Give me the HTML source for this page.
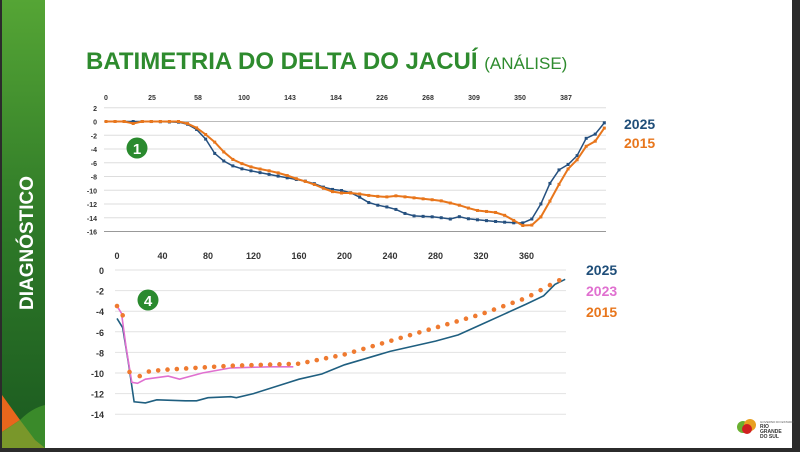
<!DOCTYPE html>
<html><head><meta charset="utf-8"><style>
html,body{margin:0;padding:0;width:800px;height:452px;overflow:hidden;background:#2b2b2b}
#w{position:absolute;left:2px;top:0;width:790px;height:448px;background:#fff}
</style></head><body>
<div id="w"></div>
<svg id="s" width="800" height="452" style="position:absolute;left:0;top:0" font-family="Liberation Sans, sans-serif">
<defs>
<linearGradient id="g" x1="0" y1="0" x2="0" y2="1"><stop offset="0" stop-color="#55a535"/><stop offset="0.5" stop-color="#2f7a28"/><stop offset="1" stop-color="#1b5a20"/></linearGradient>
</defs>
<rect x="2" y="0" width="43" height="448" fill="url(#g)"/>
<path d="M2 395 L20 420 L2 432Z" fill="#e8661c"/>
<path d="M2 432 L20 420 Q32 408 45 405 L45 448 L2 448Z" fill="#3a8a2a"/>
<path d="M2 432 L20 420 L35 440 L45 448 L2 448Z" fill="#8a9a2a" opacity="0.8"/>
<text transform="translate(33,310) rotate(-90)" fill="#fff" font-weight="bold" font-size="19">DIAGNÓSTICO</text>
<text x="86" y="69" fill="#2e8b2e" font-weight="bold" font-size="24">BATIMETRIA DO DELTA DO JACUÍ <tspan font-weight="normal" font-size="17">(ANÁLISE)</tspan></text>
<g id="c1"></g><g id="c2"></g>
<circle cx="137" cy="148" r="10.5" fill="#2a8a2e"/><text x="137" y="154" fill="#fff" font-weight="bold" font-size="15" text-anchor="middle">1</text>
<circle cx="148" cy="300" r="10.5" fill="#2a8a2e"/><text x="148" y="306" fill="#fff" font-weight="bold" font-size="15" text-anchor="middle">4</text>
<g font-weight="bold" font-size="14">
<text x="624" y="129" fill="#1f4e79">2025</text>
<text x="624" y="148" fill="#e8761c">2015</text>
<text x="586" y="275" fill="#1f4e79">2025</text>
<text x="586" y="296" fill="#e070d0">2023</text>
<text x="586" y="317" fill="#e8761c">2015</text>
</g>
<g transform="translate(735,415)">
<circle cx="8" cy="12" r="6" fill="#6ab030"/><circle cx="15" cy="10" r="6" fill="#e8a020"/><circle cx="12" cy="14" r="5" fill="#d02020"/>
<text x="25" y="8" font-size="3" fill="#555">GOVERNO DO ESTADO</text>
<text x="25" y="13" font-size="5" font-weight="bold" fill="#333">RIO</text>
<text x="25" y="18" font-size="5" font-weight="bold" fill="#333">GRANDE</text>
<text x="25" y="23" font-size="5" font-weight="bold" fill="#333">DO SUL</text>
</g>
</svg>
<script>
var NS="http://www.w3.org/2000/svg";
function el(p,t,a,txt){var e=document.createElementNS(NS,t);for(var k in a)e.setAttribute(k,a[k]);if(txt!=null)e.textContent=txt;p.appendChild(e);return e;}
function interp(pts,x){for(var i=0;i<pts.length-1;i++){if(x>=pts[i][0]&&x<=pts[i+1][0]){var t=(x-pts[i][0])/(pts[i+1][0]-pts[i][0]||1);return pts[i][1]+t*(pts[i+1][1]-pts[i][1]);}}return pts[pts.length-1][1];}
// chart 1
var c1=document.getElementById("c1");
function y1(v){return 121.5-v*6.875;}
for(var v=2;v>=-16;v-=2){var y=y1(v);el(c1,"line",{x1:104,x2:606,y1:y,y2:y,stroke:v==0?"#bbb":"#ddd","stroke-width":1});el(c1,"text",{x:97,y:y+3,"font-size":7,"text-anchor":"end",fill:"#333","font-weight":"bold"},v);}
el(c1,"line",{x1:104,x2:606,y1:y1(-16),y2:y1(-16),stroke:"#999"});
var lb=[0,25,58,100,143,184,226,268,309,350,387];
lb.forEach(function(l,i){el(c1,"text",{x:106+i*46,y:100,"font-size":7,"text-anchor":"middle",fill:"#333","font-weight":"bold"},l);});
var b1=[[106,0],[150,0],[180,-0.1],[190,-0.5],[200,-1.5],[208,-3],[217,-5.2],[227,-6],[236,-6.7],[255,-7.3],[273,-7.8],[291,-8.3],[310,-8.8],[328,-9.8],[345,-10.1],[356,-10.6],[365,-11.6],[375,-12.1],[393,-12.6],[410,-13.7],[437,-13.9],[450,-14.2],[458,-13.8],[470,-14.2],[500,-14.6],[520,-14.8],[530,-14.6],[540,-12.3],[548,-9.5],[557,-7.2],[567,-6.4],[577,-5],[585,-2.5],[594,-2.1],[603,-0.2]];
var o1=[[106,0],[125,0],[133,-0.3],[140,0],[180,0],[190,-0.4],[200,-1.2],[209,-2.3],[218,-3.4],[227,-5],[236,-5.8],[245,-6.3],[255,-6.8],[264,-7],[273,-7.3],[282,-7.6],[300,-8.5],[310,-8.9],[320,-9.5],[328,-10],[337,-10.4],[355,-10.4],[365,-10.7],[385,-11],[395,-10.8],[420,-11.2],[440,-11.5],[460,-12.2],[475,-12.9],[500,-13.3],[512,-14.2],[520,-15.1],[530,-15.2],[538,-14.6],[548,-12.1],[557,-9.7],[566,-7.2],[577,-5.6],[585,-3.7],[596,-2.8],[605,-0.8]];
function series1(d,col,w){var p=[];for(var x=106;x<=605.5;x+=9.06){p.push([x,y1(interp(d,x))]);}
el(c1,"polyline",{points:p.map(function(q){return q[0].toFixed(1)+","+q[1].toFixed(1)}).join(" "),fill:"none",stroke:col,"stroke-width":w});
p.forEach(function(q){el(c1,"rect",{x:q[0]-1.5,y:q[1]-1.5,width:3,height:3,fill:col});});}
series1(b1,"#25507f",1.5);series1(o1,"#e8761c",2);
// chart 2
var c2=document.getElementById("c2");
function X(u){return 117+u*1.1375;}function Y(v){return 270-v*10.3;}
for(var v=0;v>=-14;v-=2){var y=Y(v);el(c2,"line",{x1:115,x2:566,y1:y,y2:y,stroke:"#e2e2e2"});el(c2,"text",{x:104,y:y+4,"font-size":9,"text-anchor":"end",fill:"#333","font-weight":"bold"},v);}
for(var u=0;u<=360;u+=40){el(c2,"text",{x:X(u),y:259,"font-size":9,"text-anchor":"middle",fill:"#333","font-weight":"bold"},u);}
var b2=[[0,-4.7],[5,-5.6],[10,-9],[15,-12.8],[25,-12.9],[35,-12.6],[60,-12.7],[70,-12.7],[80,-12.4],[100,-12.3],[105,-12.4],[120,-12],[140,-11.3],[160,-10.6],[180,-10.1],[200,-9.2],[240,-7.9],[280,-6.9],[300,-6.3],[320,-5.3],[340,-4.3],[360,-3.3],[375,-2.5],[385,-1.4],[394,-0.9]];
var p2=[[0,-3.5],[4,-4.2],[8,-7.5],[13,-10.9],[18,-11],[25,-10.6],[45,-10.3],[55,-10.6],[75,-10],[100,-9.5],[135,-9.4],[155,-9.4]];
function pl(d,col,w){el(c2,"polyline",{points:d.map(function(q){return X(q[0]).toFixed(1)+","+Y(q[1]).toFixed(1)}).join(" "),fill:"none",stroke:col,"stroke-width":w});}
pl(b2,"#1f5f80",1.6);pl(p2,"#e070d0",1.6);
var o2=[[25,-9.9],[40,-9.7],[100,-9.3],[160,-9.1],[200,-8.2],[240,-6.9],[280,-5.6],[320,-4.3],[360,-2.7],[380,-1.5],[394,-0.7]];
[[0,-3.5],[5,-4.4],[11,-9.9],[20,-10.3]].forEach(function(q){el(c2,"circle",{cx:X(q[0]),cy:Y(q[1]),r:2.3,fill:"#ef7a30"});});
for(var u=28;u<=394;u+=8.2){el(c2,"circle",{cx:X(u),cy:Y(interp(o2,u)),r:2.3,fill:"#ef7a30"});}
</script>
</body></html>
